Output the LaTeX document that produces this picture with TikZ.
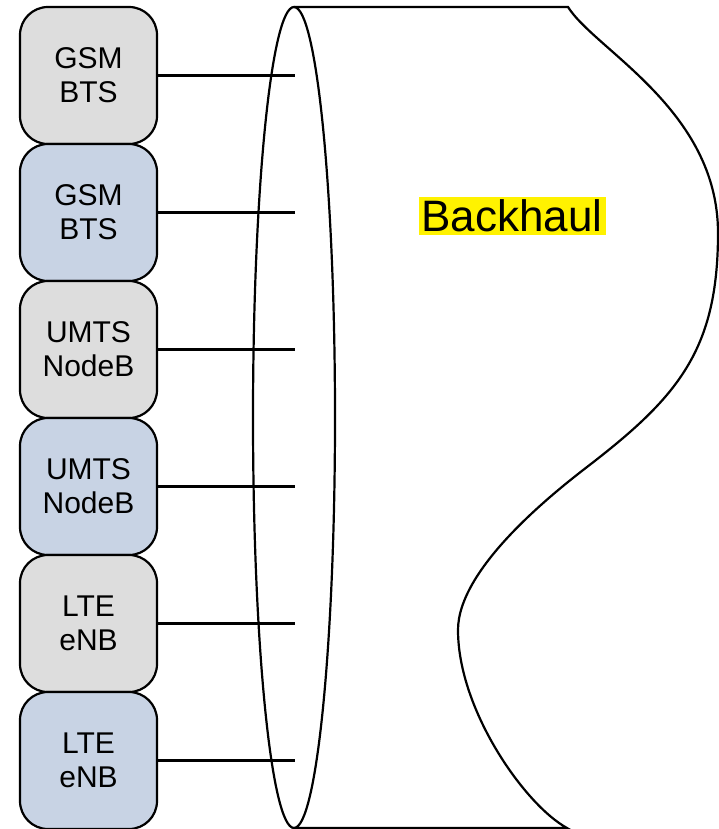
\documentclass[tikz,border=0pt]{standalone}
\usepackage{fontspec}
\setmainfont{Liberation Sans}
\usepackage{xcolor}
\usetikzlibrary{shapes,positioning,calc}

\definecolor{btsgray}{HTML}{DDDDDD}
\definecolor{btsblue}{HTML}{C8D3E4}

\begin{document}
\begin{tikzpicture}[
    x=1pt, y=-1pt,
    bts/.style={rectangle, draw, line width=2.2pt, rounded corners=28pt, minimum width=137pt, minimum height=137pt, align=center, font=\fontsize{30}{34}\selectfont},
    oldbts/.style={bts, fill=btsgray},
    newbts/.style={bts, fill=btsblue},
    link/.style={line width=2.2pt},
    pipe/.style={line width=2.2pt}
]
\useasboundingbox (0,0) rectangle (718,829);

% Base stations
\node[oldbts] (gsmA) at (88.5,75.5) {GSM\\BTS};
\node[newbts] (gsmB) at (88.5,212.5) {GSM\\BTS};
\node[oldbts] (umtsA) at (88.5,349.5) {UMTS\\NodeB};
\node[newbts] (umtsB) at (88.5,486.5) {UMTS\\NodeB};
\node[oldbts] (lteA) at (88.5,623.5) {LTE\\eNB};
\node[newbts] (lteB) at (88.5,760.5) {LTE\\eNB};

% Backhaul cloud
\draw[pipe] (294,417.5) ellipse (41 and 410.5);
\draw[pipe] (294,7) -- (568,7)
    .. controls (595,50) and (718,110) .. (718,233)
    .. controls (718,350) and (678,397) .. (587,467)
    .. controls (548,497) and (458,570) .. (458,630)
    .. controls (458,710) and (525,805) .. (567,828)
    -- (294,828);
\node[fill=yellow, inner sep=3pt, font=\fontsize{44}{48}\selectfont] (backhaul) at (512,216) {Backhaul};

% Access points
\coordinate (pGsmA) at (295,75.5);
\coordinate (pGsmB) at (295,212.5);
\coordinate (pUmtsA) at (295,349.5);
\coordinate (pUmtsB) at (295,486.5);
\coordinate (pLteA) at (295,623.5);
\coordinate (pLteB) at (295,760.5);

% Links
\draw[link] (gsmA) -- (pGsmA);
\draw[link] (gsmB) -- (pGsmB);
\draw[link] (umtsA) -- (pUmtsA);
\draw[link] (umtsB) -- (pUmtsB);
\draw[link] (lteA) -- (pLteA);
\draw[link] (lteB) -- (pLteB);

\end{tikzpicture}
\end{document}
